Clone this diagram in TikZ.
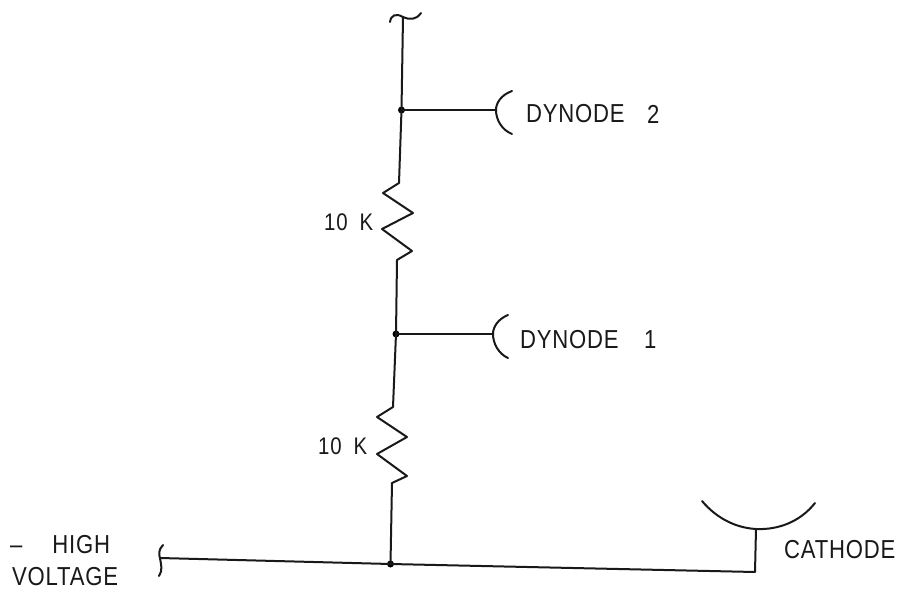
\documentclass[tikz,border=0pt]{standalone}
\usepackage{fontspec}
\setmainfont{Liberation Sans}[LetterSpace=3,FakeStretch=0.85]
\begin{document}
\begin{tikzpicture}[x=1pt,y=-1pt,
  wire/.style={line width=2pt,line join=round,line cap=round,black!90},
  dotj/.style={circle,fill=black,inner sep=0pt,minimum size=7pt},
  lab/.style={font=\fontsize{26}{30}\selectfont,inner sep=0pt,anchor=base west,black!90},
  labs/.style={lab,font=\fontsize{24}{28}\selectfont}]
\useasboundingbox (0,0) rectangle (908,591);
\fill[white] (0,0) rectangle (908,591);
\coordinate (top) at (403,17);
\coordinate (r1t) at (399,183);
\coordinate (r1b) at (397,260);
\coordinate (r2t) at (393,407);
\coordinate (r2b) at (392,483);
\coordinate (hv) at (160,558);
\coordinate (corner) at (755,572);
\coordinate (cstem) at (756,529);
\coordinate (d2) at (496,110);
\coordinate (d1) at (493,334);
\node[dotj] (j2) at (401.5,110) {};
\node[dotj] (j1) at (396,334) {};
\node[dotj] (j0) at (390.5,564) {};
% top break
\draw[wire] (390,22) .. controls (391,15) and (396,13) .. (top) .. controls (410,20) and (416,20) .. (421,13);
% main column
\draw[wire] (top) -- (j2.center) -- (r1t) -- (383,193) -- (413,213) -- (382,229) -- (412,251) -- (r1b) -- (j1.center);
\draw[wire] (j1.center) -- (r2t) -- (377,417) -- (407,437) -- (377,454) -- (407,476) -- (r2b) -- (j0.center);
% dynode branches
\draw[wire] (j2.center) -- (d2);
\draw[wire] (j1.center) -- (d1);
\draw[wire] (512,91) .. controls (501,95) and (496,103) .. (d2) .. controls (496,120) and (502,130) .. (512,134);
\draw[wire] (508,315) .. controls (498,319) and (493,327) .. (d1) .. controls (493,344) and (499,354) .. (508,358);
% bus
\draw[wire] (163,545) .. controls (158,550) and (159,555) .. (hv) .. controls (161,565) and (163,570) .. (159,576);
\draw[wire] (hv) -- (j0.center) -- (corner) -- (cstem);
% cathode
\draw[wire] (702,501) .. controls (718,520) and (738,528) .. (cstem) .. controls (778,530) and (800,522) .. (815,503);
% labels
\node[lab] (ld2) at (526,123) {DYNODE};
\node[lab] (ld2n) at (647,124) {2};
\node[lab] (ld1) at (520,348) {DYNODE};
\node[lab] (ld1n) at (644,348) {1};
\node[labs] (lr1) at (324,230) {10\hspace{12pt}K};
\node[labs] (lr2) at (318,454) {10\hspace{12pt}K};
\node[lab] (lh) at (10,553) {–\hspace{30pt}HIGH};
\node[lab] (lv) at (12,585) {VOLTAGE};
\node[lab] (lc) at (784,558) {CATHODE};
\end{tikzpicture}
\end{document}
